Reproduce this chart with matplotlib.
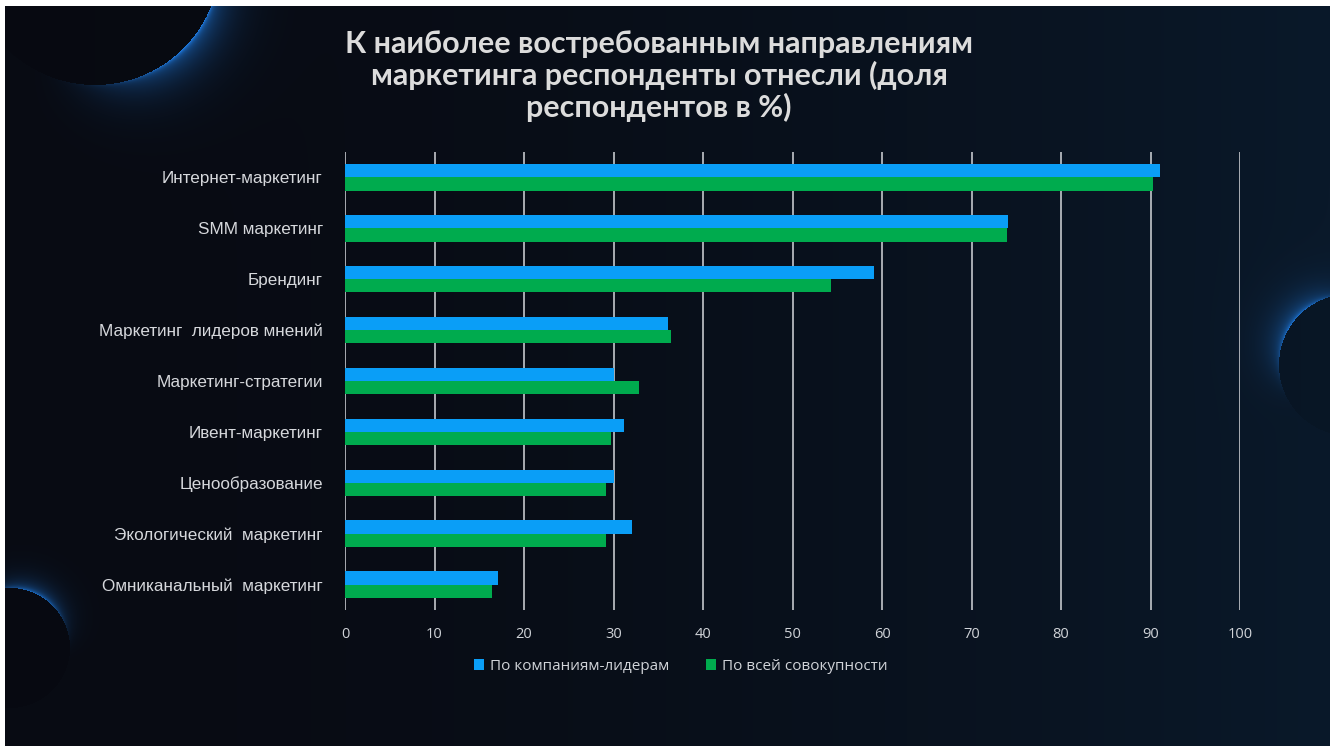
import numpy as np
import matplotlib
matplotlib.use("Agg")
import matplotlib.pyplot as plt
from matplotlib.patches import Patch

# ---- data -------------------------------------------------------------
categories = [
    "Интернет-маркетинг",
    "SMM маркетинг",
    "Брендинг",
    "Маркетинг  лидеров мнений",
    "Маркетинг-стратегии",
    "Ивент-маркетинг",
    "Ценообразование",
    "Экологический  маркетинг",
    "Омниканальный  маркетинг",
]
leaders = [91.1, 74.1, 59.1, 36.1, 30.0, 31.2, 30.0, 32.1, 17.1]
overall = [90.3, 74.0, 54.3, 36.4, 32.8, 29.7, 29.2, 29.2, 16.4]
series_names = ["По компаниям-лидерам", "По всей совокупности"]
x_ticks = list(range(0, 101, 10))
title = ("К наиболее востребованным направлениям\n"
         "маркетинга респонденты отнесли (доля\n"
         "респондентов в %)")

# ---- figure -----------------------------------------------------------
W, H = 1330, 747
fig = plt.figure(figsize=(W / 100, H / 100), dpi=100)
fig.patch.set_facecolor("white")

# dark backdrop with soft glowing arcs
x0, y0, x1, y1 = 5, 6, W, H - 1
bg = fig.add_axes([x0 / W, 1 - y1 / H, (x1 - x0) / W, (y1 - y0) / H])
bg.set_axis_off()
X, Y = np.meshgrid(np.arange(x0, x1) + 0.5, np.arange(y0, y1) + 0.5)
t = (X - x0) / (x1 - x0)
left_c = np.array([8, 11, 19]) / 255
right_c = np.array([10, 25, 42]) / 255
img = left_c[None, None, :] * (1 - t[..., None] ** 1.8) + right_c[None, None, :] * (t[..., None] ** 1.8)
glow_c = np.array([30, 120, 220]) / 255


def add_glow(img, cx, cy, r, theta0, width, power, strength):
    d = np.hypot(X - cx, Y - cy)
    ang = np.arctan2(Y - cy, X - cx)
    af = np.clip(np.cos(ang - np.deg2rad(theta0)), 0, None) ** power
    out = d - r
    halo = np.where(out > 0, np.exp(-out / width) * af, 0.0)
    rim = np.where(out > 0, np.exp(-out / 2.0) * af ** 1.5, 0.0) * 0.5
    a = np.clip((halo * 0.6 + rim) * strength, 0, 1)[..., None]
    inside = (d <= r)[..., None]
    img = np.where(inside, img * 0.9, img)
    img = img * (1 - a) + glow_c[None, None, :] * a
    return img


img = add_glow(img, 95, -40, 125, 40, 20, 3.0, 1.0)
img = add_glow(img, 1350, 365, 71, -140, 14, 3.0, 0.9)
img = add_glow(img, 10, 648, 60, -65, 10, 3.5, 0.8)
bg.imshow(img, extent=(x0, x1, y1, y0), aspect="auto", interpolation="bilinear")
bg.set_xlim(x0, x1)
bg.set_ylim(y1, y0)

# ---- bars ----------------------------------------------------------------
ax = fig.add_axes([345 / W, 1 - 610 / H, (1240 - 345) / W, (610 - 152) / H])
ax.set_facecolor("none")
pos = np.arange(len(categories))
bh = 0.26
blue, green = "#0a9ef7", "#00ab4e"
ax.barh(pos - bh / 2, leaders, height=bh, color=blue, zorder=3)
ax.barh(pos + bh / 2, overall, height=bh, color=green, zorder=3)

ax.set_xlim(0, 100)
ax.set_ylim(len(categories) - 0.5, -0.5)
ax.set_xticks(x_ticks)
ax.set_xticklabels([str(v) for v in x_ticks], family="Open Sans", fontsize=10.5, color="#d0d3d8")
ax.set_yticks(pos)
ax.set_yticklabels(categories, family="Liberation Sans", fontsize=12.3, color="#d6d8dc")
ax.tick_params(axis="x", length=0, pad=12)
ax.tick_params(axis="y", length=0, pad=16)
ax.grid(axis="x", color="#c4c7cc", linewidth=1.2, zorder=1)
for s in ax.spines.values():
    s.set_visible(False)

# ---- legend --------------------------------------------------------------
handles = [Patch(facecolor=blue), Patch(facecolor=green)]
leg = fig.legend(handles, series_names, loc="center", ncol=2, frameon=False,
                 bbox_to_anchor=(681 / W, 1 - 666 / H),
                 handlelength=0.65, handleheight=0.75, handletextpad=0.4,
                 columnspacing=2.4, prop={"family": "Open Sans", "size": 11})
for txt in leg.get_texts():
    txt.set_color("#d0d3d8")

# ---- title ---------------------------------------------------------------
fig.text(659 / W, 1 - 76 / H, title, ha="center", va="center",
         family="Lato", fontweight="bold", fontsize=22, color="#dcdcdc",
         linespacing=1.1)

fig.savefig("out.png", dpi=100, facecolor=fig.get_facecolor())
